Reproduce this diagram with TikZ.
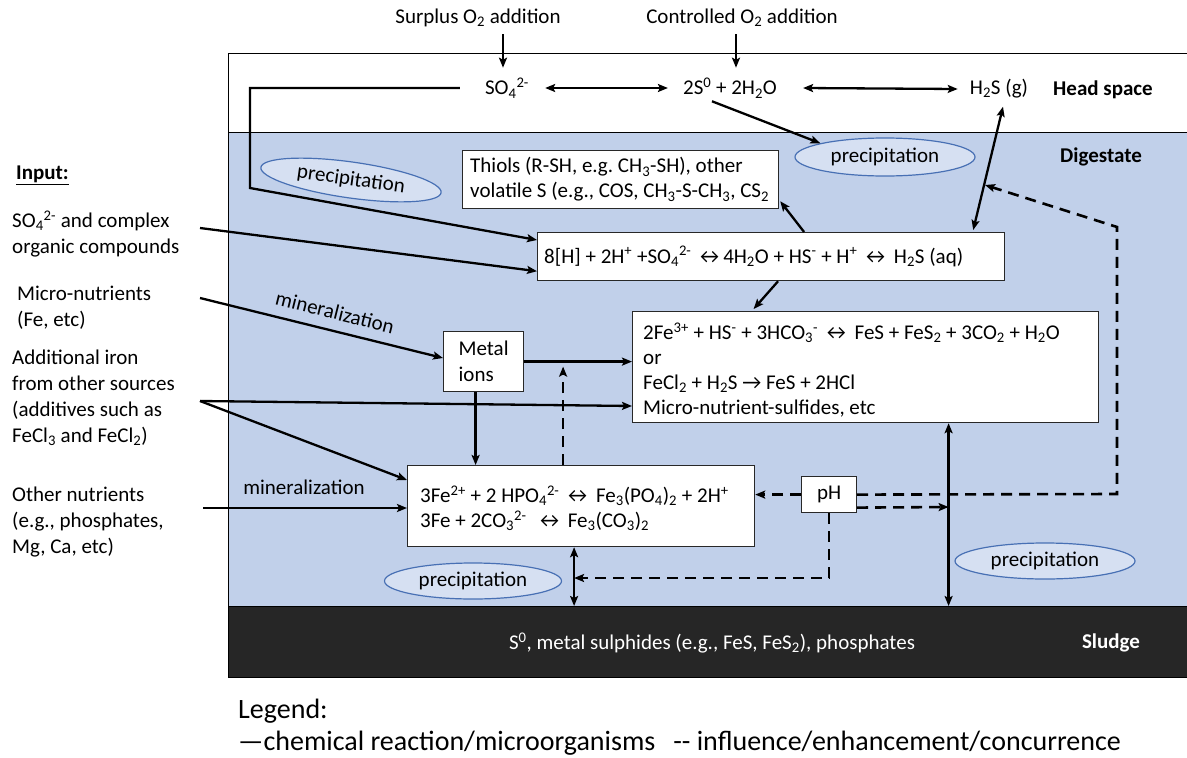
\documentclass[tikz,border=0pt]{standalone}
\usepackage{fontspec}
\setmainfont{Carlito}
\usetikzlibrary{arrows.meta,shapes.geometric,calc}

\definecolor{digest}{RGB}{193,208,234}
\definecolor{ellfill}{RGB}{214,224,242}
\definecolor{ellline}{RGB}{72,112,180}
\definecolor{sludgec}{RGB}{38,38,38}
\definecolor{boxline}{RGB}{40,40,40}

\newcommand{\chsub}[1]{\textsubscript{#1}}
\newcommand{\chsup}[1]{\textsuperscript{#1}}

\begin{document}
\frenchspacing
\begin{tikzpicture}[x=1pt,y=-1pt,
  every node/.style={font=\fontsize{21}{26}\selectfont},
  txt/.style={inner sep=0pt},
  bold/.style={inner sep=0pt,font=\fontsize{21}{26}\selectfont\bfseries},
  panel/.style={draw=black, line width=1pt, minimum width=962pt, anchor=north west, inner sep=0pt},
  frame/.style={draw=boxline, fill=white, line width=1.2pt, anchor=north west, inner sep=0pt},
  boxtext/.style={anchor=west, align=left, inner sep=0pt, font=\fontsize{21}{25}\selectfont},
  precip/.style={ellipse, draw=ellline, fill=ellfill, line width=1.2pt, inner sep=0pt},
  arr/.style={-{Stealth[length=10pt,width=8pt,inset=2pt]}, line width=2.3pt},
  dbl/.style={{Stealth[length=10pt,width=8pt,inset=2pt]}-{Stealth[length=10pt,width=8pt,inset=2pt]}, line width=2.3pt},
  infl/.style={arr, line width=2.6pt, dash pattern=on 11pt off 7pt},
]
\useasboundingbox (0,0) rectangle (1187,758);
\clip (0,0) rectangle (1187,758);

% reactor compartments
\node[panel, fill=white,   minimum height=79pt]  (head)   at (228,53)  {};
\node[panel, fill=digest,  minimum height=474pt] (digest) at (228,132) {};
\node[panel, fill=sludgec, minimum height=71pt]  (sludge) at (228,606) {};

\node[bold] (hslab) at (1103,90) {Head space};
\node[bold] (dglab) at (1101,157) {Digestate};
\node[bold, text=white] (sllab) at (1111,643) {Sludge};
\node[txt, text=white] (sltext) at (712,643) {S\chsup{0}, metal sulphides (e.g., FeS, FeS\chsub{2}), phosphates};

% oxygen dosing and head-space species
\node[txt] (surplus) at (478,18) {Surplus O\chsub{2} addition};
\node[txt] (ctrl) at (742,18) {Controlled O\chsub{2} addition};
\node[txt] (so4) at (507,88) {SO\chsub{4}\chsup{2-}};
\node[txt] (s0) at (730,88) {2S\chsup{0} + 2H\chsub{2}O};
\node[txt] (h2sg) at (999,89) {H\chsub{2}S (g)};

% precipitation zones
\node[precip, rotate=-8, minimum width=182pt, minimum height=36pt] (p1) at (351,180) {precipitation};
\node[precip, minimum width=180pt, minimum height=38pt] (p2) at (885,157) {precipitation};
\node[precip, minimum width=177pt, minimum height=36pt] (p3) at (473,581) {precipitation};
\node[precip, minimum width=180pt, minimum height=36pt] (p4) at (1045,561) {precipitation};

% reaction boxes: frame first, then its text
\node[frame, minimum width=316pt, minimum height=58pt] (thiols) at (462,150) {};
\node[boxtext] (thiols-t) at ($(thiols.west)+(8,0)$)
  {Thiols (R-SH, e.g. CH\chsub{3}-SH), other\\volatile S (e.g., COS, CH\chsub{3}-S-CH\chsub{3}, CS\chsub{2}};
\node[frame, minimum width=467pt, minimum height=48pt] (hreact) at (537,232) {};
\node[boxtext] (hreact-t) at ($(hreact.west)+(7,0)$)
  {8[H] + 2H\chsup{+} +SO\chsub{4}\chsup{2-} ↔4H\chsub{2}O + HS\chsup{-} + H\chsup{+} ↔ H\chsub{2}S (aq)};
\node[frame, minimum width=466pt, minimum height=111pt] (fereact) at (632,311) {};
\node[boxtext] (fereact-t) at ($(fereact.west)+(11,3)$)
  {2Fe\chsup{3+} + HS\chsup{-} + 3HCO\chsub{3}\chsup{-} ↔ FeS + FeS\chsub{2} + 3CO\chsub{2} + H\chsub{2}O\\or\\FeCl\chsub{2} + H\chsub{2}S → FeS + 2HCl\\Micro-nutrient-sulfides, etc};
\node[frame, minimum width=80pt, minimum height=60pt, align=left, font=\fontsize{21}{26}\selectfont] (metal) at (443,331) {Metal\\ions};
\node[frame, minimum width=347pt, minimum height=81pt] (fe2) at (407,465) {};
\node[boxtext] (fe2-t) at ($(fe2.west)+(13,2)$)
  {3Fe\chsup{2+} + 2 HPO\chsub{4}\chsup{2-} ↔ Fe\chsub{3}(PO\chsub{4})\chsub{2} + 2H\chsup{+}\\3Fe + 2CO\chsub{3}\chsup{2-}~ ↔ Fe\chsub{3}(CO\chsub{3})\chsub{2}};
\node[frame, minimum width=55pt, minimum height=36pt] (ph) at (801,476) {pH};

% inputs
\node[txt, anchor=west] (inhdr) at (16,175) {\underline{\textbf{Input:}}};
\node[txt, anchor=west, align=left] (in1) at (12,234) {SO\chsub{4}\chsup{2-} and complex\\organic compounds};
\node[txt, anchor=west, align=left] (in2) at (17,308) {Micro-nutrients\\(Fe, etc)};
\node[txt, anchor=west, align=left] (in3) at (12,398) {Additional iron\\from other sources\\(additives such as\\FeCl\chsub{3} and FeCl\chsub{2})};
\node[txt, anchor=west, align=left] (in4) at (12,522) {Other nutrients\\(e.g., phosphates,\\Mg, Ca, etc)};

\node[txt, rotate=-14] (min1) at (335,312) {mineralization};
\node[txt] (min2) at (304,487) {mineralization};

% free ends and bends
\coordinate (bendA) at (250,88);
\coordinate (bendB) at (250,188);
\coordinate (turnA) at (1117,494);
\coordinate (turnB) at (1117,227);
\coordinate (onH2S) at (985,185);
\coordinate (xa) at ($(fe2.south)+(-7,0)$);
\coordinate (xb) at ($(fereact.south)+(83,0)$);

% reactions / microorganisms
\draw[arr] ($(so4.north |- surplus.south)+(-4,7)$) -- ($(so4.north)+(-4,-10)$);
\draw[arr] ($(s0.north |- ctrl.south)+(6,7)$) -- ($(s0.north)+(6,-10)$);
\draw[dbl] ($(so4.east)+(16,0)$) -- ($(s0.west)+(-15,0)$);
\draw[dbl] ($(s0.east)+(26,0)$) -- ($(h2sg.west)+(-12,0)$);
\draw[arr] ($(s0.south)+(-18,3)$) -- (p2.168);
\draw[dbl] ($(h2sg.south)+(4,8)$) -- ($(hreact.north east)+(-32,-2)$);
\draw[arr] ($(hreact.north)+(33,0)$) -- ($(thiols.south east)+(1,-8)$);
\draw[arr] ($(hreact.south)+(7,0)$) -- ($(fereact.north)+(-112,-2)$);
\draw[arr] ($(so4.west)+(-25,0)$) -- (bendA) -- (bendB) -- ($(hreact.north west)+(0,8)$);
\draw[arr] ($(in1.west)+(188,-6)$) -- ($(hreact.south west)+(0,-10)$);
\draw[arr] ($(in2.west)+(183,-10)$) -- ($(metal.north west)+(0,27)$);
\draw[arr] (metal.east) -- (fereact.west |- metal.east);
\draw[arr] ($(in3.west)+(188,3)$) -- ($(fereact.north west)+(0,95)$);
\draw[arr] ($(in3.west)+(188,3)$) -- ($(fe2.north west)+(0,15)$);
\draw[arr] ($(metal.south)+(-8,0)$) -- ($(metal.south |- fe2.north)+(-8,0)$);
\draw[arr] ($(in4.west)+(191,-14)$) -- ($(fe2.north west)+(0,43)$);
\draw[dbl] (xa) -- (xa |- sludge.north);
\draw[dbl] (xb) -- (xb |- sludge.north);

% influence / enhancement / concurrence
\draw[infl] ($(fe2.north)+(-18,0)$) -- ($(fe2.north |- metal.east)+(-18,5)$);
\draw[infl] (ph.west) -- (fe2.east |- ph.west);
\draw[infl] (ph.south) |- (xa |- 0,578);
\draw[infl] ($(ph.east)+(0,13)$) -- (xb |- 0,507);
\draw[infl] (ph.east) -- (turnA) -- (turnB) -- (onH2S);

% legend
\node[txt, anchor=west, font=\fontsize{28}{34}\selectfont] (leg1) at (238,711) {Legend:};
\node[txt, anchor=west, font=\fontsize{28}{34}\selectfont] (leg2) at (238,743)
  {—chemical reaction/microorganisms\hspace{18pt}\mbox{-}\mbox{-} influence/enhancement/concurrence};
\end{tikzpicture}
\end{document}
